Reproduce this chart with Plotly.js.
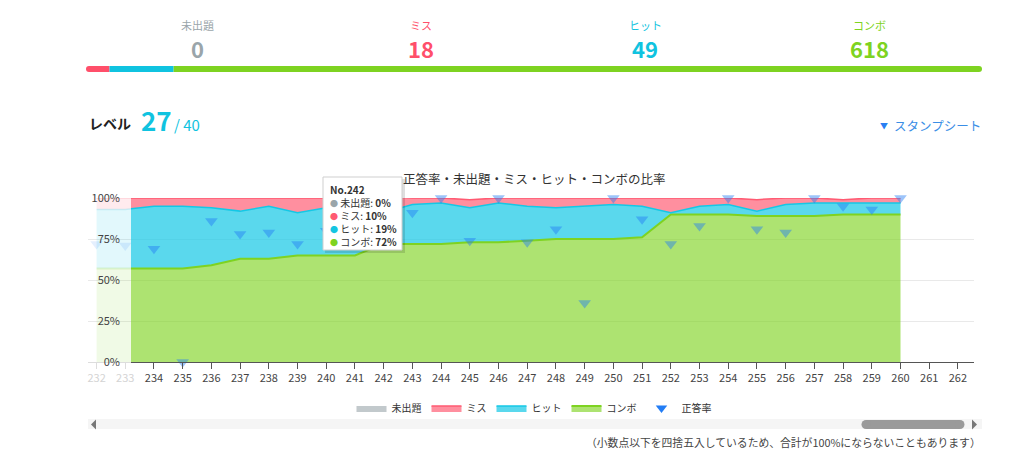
<!DOCTYPE html>
<html><head><meta charset="utf-8">
<script src="https://cdn.plot.ly/plotly-3.0.1.min.js"></script>
<style>html,body{margin:0;padding:0;background:#fff;} #chart{width:1024px;height:450px;}</style>
</head><body><div id="chart"></div>
<script>
// ---- data ----
const stages  = [232,233,234,235,236,237,238,239,240,241,242,243,244,245,246,247,248,249,250,251,252,253,254,255,256,257,258,259,260];
const combo   = [57,57,57,57,59,63,63,65,65,65,72,72,72,73,73,74,75,75,75,76,90,90,90,89,89,89,90,90,90];
const hit     = [36,36,38,38,35,29,32,26,29,27,19,24,25,21,24,21,19,20,21,19,1,5,6,3,7,8,7,7,7];
const miss    = [7,7,5,5,6,8,5,9,6,8,10,4,3,5,3,5,6,5,4,5,9,5,4,7,4,3,2,3,3];
const unasked = [0,0,0,0,0,0,0,0,0,0,0,0,0,0,0,0,0,0,0,0,0,0,0,0,0,0,0,0,0];
const rate    = [72,71,69,0,86,78,79,72,80,83,76,91,100,74,100,73,81,36,100,87,72,83,100,81,79,100,95,93,100];

const summaryLabels = ['未出題','ミス','ヒット','コンボ'];
const summaryCounts = [0,18,49,618];
const yTicks = [0,25,50,75,100];
const yTickText = ['0%','25%','50%','75%','100%'];
const levelNow = 27, levelMax = 40;
const tooltipStage = 242;

// ---- style ----
const W = 1024, H = 450;
const px = x => x / W, py = y => 1 - y / H;
const FONT = '"Noto Sans CJK JP", "Noto Sans", sans-serif';
const C = {unasked:'#9aa5aa', miss:'#ff5a72', hit:'#14c5e2', combo:'#7ed321'};
const rgb = {unasked:[154,165,170], miss:[255,90,114], hit:[20,200,230], combo:[126,211,33], rate:[35,125,245]};
const fillA = {unasked:0.6, miss:0.68, hit:0.7, combo:0.64};
const rgba = (k, a) => `rgba(${rgb[k].join(',')},${a})`;
const summaryColors = [C.unasked, '#ff4f6a', '#10c3e0', C.combo];

function areas(xa, group, faded) {
  const f = faded ? 0.18 : 1;
  const base = {x: stages, xaxis: xa, yaxis: 'y', type: 'scatter', mode: 'lines', stackgroup: group,
                showlegend: !faded, hoverinfo: 'skip'};
  return [
    Object.assign({}, base, {name:'コンボ', y: combo, fillcolor: rgba('combo', fillA.combo*f), line:{color:rgba('combo', f), width:2}, legendrank:4}),
    Object.assign({}, base, {name:'ヒット', y: hit, fillcolor: rgba('hit', fillA.hit*f), line:{color:rgba('hit', f), width:1.5}, legendrank:3}),
    Object.assign({}, base, {name:'ミス', y: miss, fillcolor: rgba('miss', fillA.miss*f), line:{color:rgba('miss', f), width:1.5}, legendrank:2}),
    Object.assign({}, base, {name:'未出題', y: unasked, fillcolor: rgba('unasked', fillA.unasked*f), line:{color:rgba('unasked', f), width:0}, legendrank:1})
  ];
}
function markers(xa, keep, faded) {
  const xs = [], ys = [];
  stages.forEach((s, i) => { if (keep(s)) { xs.push(s); ys.push(rate[i]); } });
  return {x: xs, y: ys, xaxis: xa, yaxis: 'y', type: 'scatter', mode: 'markers', name: '正答率',
          showlegend: false, cliponaxis: false, hoverinfo: 'skip',
          marker: {symbol: 'triangle-down', size: 11, color: rgba('rate', faded ? 0.12 : 0.45), line: {width: 0}}};
}
// legend entry for the rate series (solid icon like the original legend)
const rateLegend = {x:[null], y:[null], xaxis:'x2', yaxis:'y', type:'scatter', mode:'markers', name:'正答率', legendrank:5,
                    showlegend:true, hoverinfo:'skip', marker:{symbol:'triangle-down', size:10, color:'rgb(35,125,245)'}};

// faded (scrolled-out) strip on 'x', visible window on 'x2'
const data = [].concat(
  areas('x', 'fade', true), [markers('x', s => s <= 233, true)],
  areas('x2', 'main', false), [markers('x2', s => s >= 234, false)], [rateLegend]
);

// ---- shapes ----
const shapes = [];
const total = summaryCounts.reduce((a, b) => a + b, 0);
const barL = 86, barR = 982, barT = 66, barB = 72;
let cur = barL;
const segs = [];
summaryCounts.forEach((c, i) => {
  const w = (barR - barL) * c / total;
  if (w > 0) { segs.push({x0: cur, x1: cur + w, color: summaryColors[i]}); }
  cur += w;
});
const r = (barB - barT) / 2;
segs.forEach((s, k) => {
  let x0 = s.x0, x1 = s.x1;
  if (k === 0) { x0 += r; shapes.push({type:'circle', xref:'paper', yref:'paper', x0:px(s.x0), x1:px(s.x0 + 2*r), y0:py(barB), y1:py(barT), fillcolor:s.color, line:{width:0}}); }
  if (k === segs.length - 1) { x1 -= r; shapes.push({type:'circle', xref:'paper', yref:'paper', x0:px(s.x1 - 2*r), x1:px(s.x1), y0:py(barB), y1:py(barT), fillcolor:s.color, line:{width:0}}); }
  shapes.push({type:'rect', xref:'paper', yref:'paper', x0:px(x0), x1:px(x1), y0:py(barB), y1:py(barT), fillcolor:s.color, line:{width:0}});
});
// scrollbar
shapes.push({type:'rect', xref:'paper', yref:'paper', x0:px(88), x1:px(982), y0:py(429), y1:py(419), fillcolor:'#f5f5f5', line:{width:0}});
shapes.push({type:'rect', xref:'paper', yref:'paper', x0:px(866), x1:px(960), y0:py(429), y1:py(420), fillcolor:'#9a9a9a', line:{width:0}});
shapes.push({type:'circle', xref:'paper', yref:'paper', x0:px(861.5), x1:px(870.5), y0:py(429), y1:py(420), fillcolor:'#9a9a9a', line:{width:0}});
shapes.push({type:'circle', xref:'paper', yref:'paper', x0:px(955.5), x1:px(964.5), y0:py(429), y1:py(420), fillcolor:'#9a9a9a', line:{width:0}});
shapes.push({type:'path', xref:'paper', yref:'paper', path:`M${px(96)},${py(419.5)} L${px(91)},${py(424.5)} L${px(96)},${py(429.5)} Z`, fillcolor:'#777', line:{width:0}});
shapes.push({type:'path', xref:'paper', yref:'paper', path:`M${px(972)},${py(419.5)} L${px(977)},${py(424.5)} L${px(972)},${py(429.5)} Z`, fillcolor:'#777', line:{width:0}});
// tooltip box
shapes.push({type:'rect', xref:'paper', yref:'paper', x0:px(325), x1:px(405), y0:py(253), y1:py(179), fillcolor:'rgba(0,0,0,0.13)', line:{width:0}, layer:'above'});
shapes.push({type:'rect', xref:'paper', yref:'paper', x0:px(323), x1:px(402), y0:py(250), y1:py(177), fillcolor:'#ffffff', line:{color:'#cfcfcf', width:1}, layer:'above'});

// ---- annotations ----
const ann = [];
const centers = [197, 421, 645, 869];
summaryLabels.forEach((lab, i) => {
  ann.push({text: lab, x: px(centers[i]), y: py(25), xref:'paper', yref:'paper', showarrow:false, xanchor:'center', yanchor:'middle', font:{size:11, color:summaryColors[i]}});
  ann.push({text: '<b>' + summaryCounts[i] + '</b>', x: px(centers[i]), y: py(48), xref:'paper', yref:'paper', showarrow:false, xanchor:'center', yanchor:'middle', font:{size:22, color:summaryColors[i]}});
});
ann.push({text:'<b>レベル</b>', x:px(87), y:py(123), xref:'paper', yref:'paper', showarrow:false, xanchor:'left', yanchor:'middle', font:{size:14, color:'#222'}});
ann.push({text:'<b>' + levelNow + '</b>', x:px(139), y:py(119), xref:'paper', yref:'paper', showarrow:false, xanchor:'left', yanchor:'middle', font:{size:26, color:'#10c3e0'}});
ann.push({text:'/ ' + levelMax, x:px(172), y:py(124), xref:'paper', yref:'paper', showarrow:false, xanchor:'left', yanchor:'middle', font:{size:15, color:'#10c3e0'}});
ann.push({text:'▼', x:px(884), y:py(125), xref:'paper', yref:'paper', showarrow:false, xanchor:'center', yanchor:'middle', font:{size:8, color:'#2a7ff2'}});
ann.push({text:'スタンプシート', x:px(983), y:py(125), xref:'paper', yref:'paper', showarrow:false, xanchor:'right', yanchor:'middle', font:{size:12.5, color:'#3a8ee6'}});
ann.push({text:'正答率・未出題・ミス・ヒット・コンボの比率', x:px(534), y:py(178), xref:'paper', yref:'paper', showarrow:false, xanchor:'center', yanchor:'middle', font:{size:12.5, color:'#333'}});
ann.push({text:'（小数点以下を四捨五入しているため、合計が100%にならないこともあります）', x:px(983), y:py(442), xref:'paper', yref:'paper', showarrow:false, xanchor:'right', yanchor:'middle', font:{size:10.8, color:'#444'}});
// tooltip text
const ti = stages.indexOf(tooltipStage);
const dot = c => `<span style="color:${c};font-size:8px">●</span>`;
const ttText = `<b>No.${tooltipStage}</b><br>` +
  `${dot(C.unasked)} 未出題: <b>${unasked[ti]}%</b><br>` +
  `${dot(C.miss)} ミス: <b>${miss[ti]}%</b><br>` +
  `${dot(C.hit)} ヒット: <b>${hit[ti]}%</b><br>` +
  `${dot(C.combo)} コンボ: <b>${combo[ti]}%</b>`;
ann.push({text: ttText, x:px(328), y:py(180), xref:'paper', yref:'paper', showarrow:false, xanchor:'left', yanchor:'top', align:'left', font:{size:10, color:'#333'}});

const axBase = {dtick:1, tick0:0, ticks:'outside', ticklen:6, showline:true, linewidth:1, showgrid:false, zeroline:false, anchor:'y', fixedrange:true};
const layout = {
  width: W, height: H, margin:{l:0, r:0, t:0, b:0}, paper_bgcolor:'#fff', plot_bgcolor:'rgba(0,0,0,0)',
  font:{family: FONT, color:'#333', size:11},
  showlegend: true,
  legend:{orientation:'h', traceorder:'normal', x:px(534), xanchor:'center', y:py(408), yanchor:'middle', font:{size:10, color:'#333'}, itemwidth:30, bgcolor:'rgba(0,0,0,0)'},
  xaxis: Object.assign({}, axBase, {domain:[px(88), px(131)], range:[231.7, 233.2], tickcolor:'#ddd', linecolor:'#ddd', tickfont:{size:11, color:'#d4d4d4'}}),
  xaxis2: Object.assign({}, axBase, {domain:[px(131), px(974)], range:[233.2, 262.56], tickcolor:'#555', linecolor:'#555', tickfont:{size:11, color:'#444'}}),
  yaxis:{domain:[py(362), py(198)], range:[0, 100], anchor:'free', position:px(120), tickmode:'array', tickvals:yTicks, ticktext:yTickText, showgrid:true, gridcolor:'#e9e9e9', zeroline:false, showline:false, ticks:'', tickfont:{size:11, color:'#444'}, fixedrange:true},
  shapes: shapes, annotations: ann
};
Plotly.newPlot('chart', data, layout, {staticPlot:true, displayModeBar:false});
</script></body></html>
